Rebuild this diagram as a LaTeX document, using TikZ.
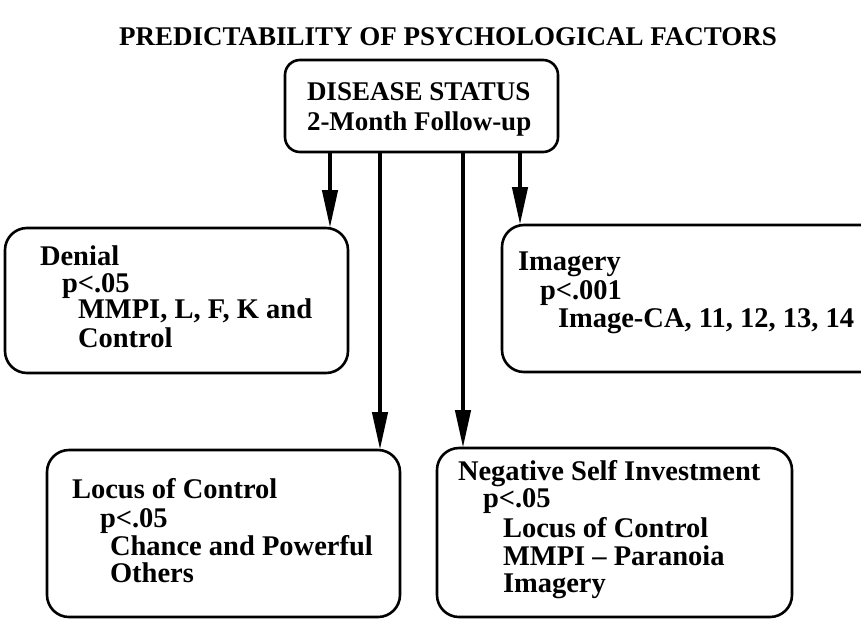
\documentclass[tikz,border=0pt]{standalone}
\usepackage{fontspec}
\setmainfont{Liberation Serif}
\usetikzlibrary{arrows.meta}
\begin{document}
\begin{tikzpicture}[x=1pt,y=-1pt,
  box/.style={draw, line width=2.6pt, rounded corners=22pt, anchor=north west,
    inner sep=0pt, outer sep=0pt},
  lbl/.style={anchor=base west, inner sep=0pt, outer sep=0pt,
    font=\fontsize{27}{30}\selectfont\bfseries},
  body/.style={lbl, font=\fontsize{28.5}{32}\selectfont\bfseries},
  arr/.style={line width=4.4pt, -{Triangle[length=38pt,width=15pt]}}]
\useasboundingbox (0,0) rectangle (861,621);
\clip (0,0) rectangle (861,621);

% heading
\node[lbl, anchor=base] (title) at (448,45) {PREDICTABILITY OF PSYCHOLOGICAL FACTORS};

% outcome box
\node[box, rounded corners=15pt, minimum width=273pt, minimum height=92pt] (status) at (285,60) {};
\node[lbl] (s1) at (307,100) {DISEASE STATUS};
\node[lbl] (s2) at (307,130) {2-Month Follow-up};

% factor boxes
\node[box, minimum width=343pt, minimum height=145pt] (denial) at (5,228) {};
\node[box, minimum width=400pt, minimum height=147pt] (imagery) at (502,225) {};
\node[box, minimum width=353pt, minimum height=167pt] (locus) at (47,450) {};
\node[box, minimum width=355pt, minimum height=169pt] (negself) at (437,448) {};

% box texts
\node[body] (d1) at (40,265) {Denial};
\node[body] (d2) at (62,292) {p\textless.05};
\node[body] (d3) at (78,318) {MMPI, L, F, K and};
\node[body] (d4) at (78,347) {Control};

\node[body] (i1) at (518,270) {Imagery};
\node[body] (i2) at (540,299) {p\textless.001};
\node[body] (i3) at (558,327) {Image-CA, 11, 12, 13, 14};

\node[body] (l1) at (72,498) {Locus of Control};
\node[body] (l2) at (100,527) {p\textless.05};
\node[body] (l3) at (110,555) {Chance and Powerful};
\node[body] (l4) at (110,582) {Others};

\node[body] (n1) at (458,480) {Negative Self Investment};
\node[body] (n2) at (483,507) {p\textless.05};
\node[body] (n3) at (503,537) {Locus of Control};
\node[body] (n4) at (503,565) {MMPI -- Paranoia};
\node[body] (n5) at (503,592) {Imagery};

% arrow columns
\coordinate (c1) at (330,0);
\coordinate (c2) at (380,0);
\coordinate (c3) at (463,0);
\coordinate (c4) at (520,0);

\draw[arr] (c1 |- status.south) -- (c1 |- denial.north);
\draw[arr] (c2 |- status.south) -- (c2 |- locus.north);
\draw[arr] (c3 |- status.south) -- (c3 |- negself.north);
\draw[arr] (c4 |- status.south) -- (c4 |- imagery.north);
\end{tikzpicture}
\end{document}
